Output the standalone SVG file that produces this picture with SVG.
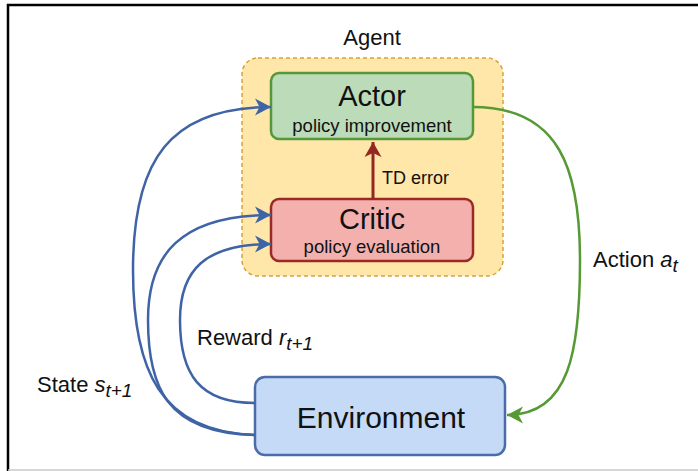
<svg xmlns="http://www.w3.org/2000/svg" width="698" height="471" viewBox="0 0 698 471">
<style>
text{font-family:"Liberation Sans",Arial,sans-serif;fill:#111}
.big{font-size:29px;text-anchor:middle}
.sub{font-size:18.5px;text-anchor:middle}
.lbl{font-size:22px}
.it{font-style:italic}
.sb{font-style:italic;font-size:19px}
.blue{fill:none;stroke:#3f64a6;stroke-width:2.5}
.green{fill:none;stroke:#559a35;stroke-width:2.5}
.red{fill:none;stroke:#952621;stroke-width:3}
</style>
<defs>
<marker id="mb" markerUnits="userSpaceOnUse" markerWidth="20" markerHeight="20" viewBox="-17 -10 20 20" refX="0" refY="0" orient="auto">
<path d="M-16,-8.5 L0,0 L-16,8.5 L-11.5,0 Z" fill="#3f64a6"/>
</marker>
<marker id="mg" markerUnits="userSpaceOnUse" markerWidth="20" markerHeight="20" viewBox="-17 -10 20 20" refX="0" refY="0" orient="auto">
<path d="M-16,-8.5 L0,0 L-16,8.5 L-11.5,0 Z" fill="#559a35"/>
</marker>
<marker id="mr" markerUnits="userSpaceOnUse" markerWidth="20" markerHeight="20" viewBox="-17 -10 20 20" refX="0" refY="0" orient="auto">
<path d="M-15,-8.5 L0,0 L-15,8.5 L-11,0 Z" fill="#952621"/>
</marker>
</defs>
<rect width="698" height="471" fill="#fff"/>
<path d="M8,471 V5 H698" fill="none" stroke="#000" stroke-width="2.5"/>
<line x1="8" y1="470" x2="698" y2="470" stroke="#c8c8c8" stroke-width="1.5"/>

<g id="agent">
<rect x="242" y="58" width="261" height="218" rx="16" fill="#ffe6a9" stroke="#d4a43c" stroke-width="1.5" stroke-dasharray="4 3"/>
<text x="372" y="45" class="lbl" text-anchor="middle">Agent</text>
</g>

<g id="actor">
<rect x="271" y="73" width="202" height="66" rx="8" fill="#bcdbb8" stroke="#55983a" stroke-width="2.5"/>
<text x="372" y="106" class="big">Actor</text>
<text x="372" y="132" class="sub">policy improvement</text>
</g>

<g id="critic">
<rect x="271" y="199" width="202" height="62" rx="8" fill="#f3b0ad" stroke="#9b2a25" stroke-width="2.5"/>
<text x="372" y="229" class="big">Critic</text>
<text x="372" y="253" class="sub">policy evaluation</text>
</g>

<g id="environment">
<rect x="255" y="377" width="250" height="78" rx="10" fill="#c4daf6" stroke="#4a6ca8" stroke-width="2.5"/>
<text x="381" y="428" font-size="30" text-anchor="middle">Environment</text>
</g>

<g id="connectors">
<path class="blue" d="M255,435 C160,432 133,370 133,270 C133,160 170,107 271,107" marker-end="url(#mb)"/>
<path class="blue" d="M255,435 C165,433 148,385 148,320 C148,255 180,215 271,215" marker-end="url(#mb)"/>
<path class="blue" d="M255,403 C200,403 180,375 180,320 C180,270 205,244 271,244" marker-end="url(#mb)"/>
<path class="green" d="M473,107 C560,107 580,170 580,260 C580,350 570,415 507,415" marker-end="url(#mg)"/>
<path class="red" d="M373,199 V142" marker-end="url(#mr)"/>
<text x="382" y="184" font-size="18">TD error</text>
<text x="593" y="267" class="lbl">Action <tspan class="it">a</tspan><tspan class="sb" dy="5">t</tspan></text>
<text x="37" y="392" class="lbl">State <tspan class="it">s</tspan><tspan class="sb" dy="5">t+1</tspan></text>
<text x="197" y="345" class="lbl">Reward <tspan class="it">r</tspan><tspan class="sb" dy="5">t+1</tspan></text>
</g>
</svg>
